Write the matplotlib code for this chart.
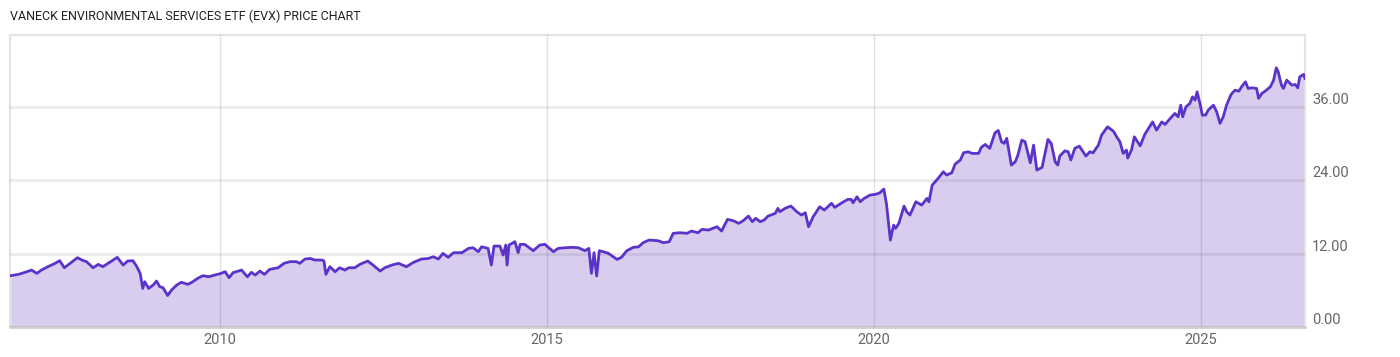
import matplotlib
matplotlib.use("Agg")
import matplotlib.pyplot as plt
from matplotlib.ticker import FixedLocator, FuncFormatter

# ---- data (decimal years, price) ----
years = [
    2006.80, 2006.92, 2007.02, 2007.12, 2007.20, 2007.27, 2007.37, 2007.48, 2007.55, 2007.62,
    2007.71, 2007.82, 2007.89, 2007.96, 2008.06, 2008.14, 2008.21, 2008.29, 2008.37, 2008.43,
    2008.52, 2008.59, 2008.67, 2008.73, 2008.78, 2008.82, 2008.85, 2008.91, 2008.98, 2009.03,
    2009.08, 2009.13, 2009.20, 2009.26, 2009.34, 2009.41, 2009.51, 2009.57, 2009.66, 2009.74,
    2009.83, 2009.92, 2010.00, 2010.08, 2010.14, 2010.20, 2010.33, 2010.42, 2010.48, 2010.54,
    2010.61, 2010.68, 2010.76, 2010.89, 2010.98, 2011.07, 2011.17, 2011.22, 2011.30, 2011.38,
    2011.45, 2011.56, 2011.59, 2011.62, 2011.68, 2011.76, 2011.83, 2011.91, 2011.97, 2012.06,
    2012.14, 2012.26, 2012.34, 2012.45, 2012.52, 2012.63, 2012.73, 2012.85, 2012.96, 2013.08,
    2013.19, 2013.26, 2013.34, 2013.41, 2013.49, 2013.57, 2013.70, 2013.80, 2013.87, 2013.95,
    2014.00, 2014.10, 2014.15, 2014.19, 2014.28, 2014.33, 2014.37, 2014.39, 2014.42, 2014.51,
    2014.56, 2014.59, 2014.66, 2014.79, 2014.89, 2014.97, 2015.02, 2015.10, 2015.17, 2015.28,
    2015.38, 2015.48, 2015.58, 2015.64, 2015.68, 2015.72, 2015.76, 2015.80, 2015.86, 2015.94,
    2016.07, 2016.14, 2016.22, 2016.32, 2016.40, 2016.47, 2016.56, 2016.70, 2016.78, 2016.87,
    2016.93, 2017.03, 2017.14, 2017.21, 2017.31, 2017.37, 2017.47, 2017.60, 2017.67, 2017.76,
    2017.85, 2017.93, 2018.00, 2018.08, 2018.14, 2018.19, 2018.26, 2018.32, 2018.38, 2018.49,
    2018.53, 2018.56, 2018.64, 2018.73, 2018.82, 2018.89, 2018.95, 2019.00, 2019.07, 2019.17,
    2019.24, 2019.35, 2019.40, 2019.51, 2019.60, 2019.65, 2019.68, 2019.74, 2019.79, 2019.85,
    2019.94, 2020.04, 2020.09, 2020.15, 2020.19, 2020.25, 2020.30, 2020.33, 2020.38, 2020.46,
    2020.50, 2020.55, 2020.64, 2020.73, 2020.81, 2020.84, 2020.89, 2020.98, 2021.06, 2021.11,
    2021.19, 2021.24, 2021.32, 2021.37, 2021.44, 2021.50, 2021.60, 2021.64, 2021.70, 2021.77,
    2021.85, 2021.90, 2021.95, 2021.99, 2022.03, 2022.10, 2022.16, 2022.20, 2022.26, 2022.31,
    2022.39, 2022.44, 2022.49, 2022.57, 2022.66, 2022.71, 2022.77, 2022.81, 2022.84, 2022.92,
    2022.97, 2023.01, 2023.07, 2023.14, 2023.24, 2023.30, 2023.35, 2023.43, 2023.48, 2023.57,
    2023.66, 2023.71, 2023.76, 2023.81, 2023.86, 2023.88, 2023.94, 2023.98, 2024.03, 2024.07,
    2024.14, 2024.26, 2024.32, 2024.40, 2024.45, 2024.53, 2024.60, 2024.65, 2024.69, 2024.72,
    2024.77, 2024.83, 2024.87, 2024.91, 2024.94, 2024.99, 2025.02, 2025.07, 2025.11, 2025.19,
    2025.24, 2025.29, 2025.34, 2025.39, 2025.46, 2025.52, 2025.58, 2025.62, 2025.68, 2025.72,
    2025.78, 2025.85, 2025.88, 2025.93, 2026.00, 2026.06, 2026.11, 2026.15, 2026.18, 2026.23,
    2026.26, 2026.31, 2026.39, 2026.44, 2026.48, 2026.51, 2026.57, 2026.59,
]
prices = [
    8.38, 8.60, 8.93, 9.30, 8.76, 9.30, 9.85, 10.40, 10.83, 9.68,
    10.40, 11.32, 10.94, 10.67, 9.68, 10.23, 9.85, 10.40, 10.94, 11.38,
    10.12, 10.78, 10.83, 9.85, 8.76, 6.31, 7.40, 6.31, 6.86, 7.51,
    6.58, 6.42, 5.15, 6.04, 6.86, 7.30, 6.97, 7.30, 7.95, 8.38,
    8.21, 8.49, 8.70, 9.03, 8.05, 8.87, 9.30, 8.21, 8.93, 8.49,
    9.14, 8.60, 9.41, 9.68, 10.40, 10.67, 10.67, 10.40, 11.10, 11.20,
    10.94, 10.94, 10.78, 8.60, 9.85, 9.03, 9.68, 9.30, 9.68, 9.68,
    10.23, 10.78, 10.12, 9.14, 9.68, 10.12, 10.40, 9.85, 10.56, 11.10,
    11.20, 11.48, 11.10, 12.03, 11.38, 12.14, 12.14, 12.84, 12.95, 12.30,
    13.10, 12.84, 10.12, 13.22, 13.22, 11.76, 13.39, 10.12, 13.39, 13.93,
    12.14, 13.50, 13.50, 12.46, 13.39, 13.50, 13.01, 12.30, 12.84, 12.95,
    13.01, 12.95, 12.46, 12.84, 8.76, 12.14, 8.33, 12.46, 12.30, 12.03,
    11.05, 11.38, 12.46, 13.01, 13.10, 13.77, 14.20, 14.09, 13.77, 13.93,
    15.30, 15.40, 15.30, 15.67, 15.40, 15.95, 15.84, 16.38, 15.67, 17.58,
    17.36, 16.93, 17.36, 18.12, 17.20, 17.75, 17.20, 17.47, 18.12, 18.56,
    19.38, 18.83, 19.38, 19.76, 18.83, 18.29, 18.66, 16.38, 18.01, 19.64,
    19.10, 20.20, 19.54, 20.29, 20.85, 20.85, 20.29, 21.27, 20.46, 21.01,
    21.55, 21.71, 21.93, 22.53, 20.20, 14.20, 16.65, 16.11, 16.93, 19.76,
    18.83, 18.29, 20.46, 19.92, 21.01, 20.46, 23.18, 24.27, 25.36, 24.82,
    25.20, 26.61, 27.27, 28.46, 28.62, 28.36, 28.36, 29.34, 29.83, 29.18,
    31.72, 32.10, 30.26, 29.99, 30.81, 26.45, 26.99, 28.08, 30.53, 30.26,
    26.83, 29.71, 25.63, 26.07, 30.64, 29.99, 26.99, 26.45, 27.92, 28.78,
    28.62, 27.27, 29.18, 29.55, 27.92, 28.62, 28.46, 29.70, 31.35, 32.70,
    32.00, 31.07, 30.26, 28.36, 28.90, 27.60, 29.00, 31.07, 30.26, 29.60,
    31.46, 33.50, 32.16, 33.50, 33.09, 34.07, 34.89, 34.34, 36.24, 34.34,
    35.97, 36.52, 37.60, 37.06, 38.42, 36.24, 34.61, 34.61, 35.43, 36.24,
    35.15, 33.26, 34.34, 36.24, 37.99, 38.69, 38.53, 39.24, 40.05, 38.97,
    39.07, 38.97, 37.34, 38.15, 38.69, 39.24, 40.33, 42.34, 41.69, 39.51,
    38.97, 40.33, 39.51, 39.62, 39.07, 40.87, 41.26, 40.60,
]
x_ticks = [2010, 2015, 2020, 2025]
y_ticks = [0, 12, 24, 36]
title = "VANECK ENVIRONMENTAL SERVICES ETF (EVX) PRICE CHART"

LINE = "#5b33c9"
FILL = "#d8cdef"
TXT = "#666666"

W, H = 1400, 357
fig = plt.figure(figsize=(W / 100, H / 100), dpi=100)
ax = fig.add_axes([10 / W, (H - 327) / H, (1305 - 10) / W, (327 - 35) / H])

ax.fill_between(years, prices, 0, color=FILL, lw=0, zorder=1)
ax.plot(years, prices, color=LINE, lw=2.0, zorder=3, solid_joinstyle="round")

ax.set_xlim(2006.79, 2026.59)
ax.set_ylim(0, 47.7)

ax.xaxis.set_major_locator(FixedLocator(x_ticks))
ax.yaxis.set_major_locator(FixedLocator(y_ticks))
ax.xaxis.set_major_formatter(FuncFormatter(lambda v, p: f"{int(v)}"))
ax.yaxis.set_major_formatter(FuncFormatter(lambda v, p: f"{v:.2f}"))
ax.yaxis.tick_right()
ax.tick_params(axis="both", length=0, labelsize=10.5, labelcolor=TXT)
ax.tick_params(axis="x", pad=4)
ax.tick_params(axis="y", pad=5)
for lbl in ax.get_xticklabels() + ax.get_yticklabels():
    lbl.set_family("Roboto")
for lbl in ax.get_yticklabels():
    lbl.set_va("bottom")

ax.grid(True, axis="y", color="#000000", alpha=0.075, lw=2, zorder=2)
ax.grid(True, axis="x", color="#000000", alpha=0.11, lw=1, zorder=2)
ax.set_axisbelow(False)

for side in ["left", "top", "right"]:
    ax.spines[side].set_color("#e3e3e3")
    ax.spines[side].set_linewidth(1.5)
ax.spines["bottom"].set_color("#cfcfcf")
ax.spines["bottom"].set_linewidth(2)

fig.text(10 / W, 1 - 16 / H, title, family="Roboto", fontsize=9, color="#222222",
         ha="left", va="center")

fig.savefig("out.png", dpi=100, facecolor="white")
